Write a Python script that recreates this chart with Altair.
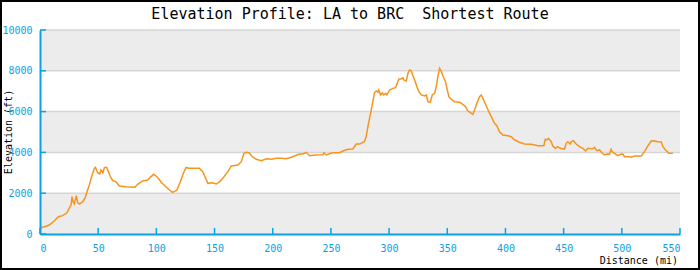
import altair as alt
import pandas as pd

distance_mi = [0.3, 3.8, 8, 12.4, 15.8, 19.5, 23.2, 25.5, 26.7, 27.5, 28.4, 29.5, 31.2, 32.4, 34.1,
               36.7, 38.7, 40.4, 42.4, 44.4, 46.7, 47.6, 49.6, 51.3, 52.4, 54.1, 55.3, 57.3, 58.8,
               60.5, 62.5, 65.3, 68.2, 73.9, 81.6, 83.9, 88.2, 92.5, 95.4, 97.7, 100.5, 104.6,
               108.2, 111.2, 114, 117.7, 120.6, 123.2, 125.4, 128.4, 136.9, 139.8, 142.4, 144.3,
               148.1, 151.5, 154.4, 157.8, 161.5, 164.4, 170.1, 173, 175.3, 177.3, 179.6, 182.5,
               185.9, 190.2, 194.5, 198.8, 203.1, 207.4, 211.7, 216, 220.3, 223.1, 226, 228.9,
               231.7, 236, 243.1, 244, 246, 251.2, 257.5, 260.3, 264.6, 268.9, 271.8, 274.7,
               278.9, 280.4, 281.8, 283.2, 285.2, 287.5, 289, 290.4, 291.2, 292.7, 294.2, 295.3,
               297, 298.1, 300.4, 303.3, 305.6, 306.7, 308.4, 310.5, 311.9, 312.7, 314.8, 316.2,
               317.6, 319.1, 320.5, 322, 323.9, 325.6, 327.7, 330.5, 332, 333.3, 335.4, 337.1,
               339.1, 340.5, 341.9, 343.4, 344.8, 346.2, 348.5, 349.7, 351.4, 353.4, 356.3,
               360.6, 363.4, 365.7, 367.7, 369.8, 372, 373.5, 375.4, 377.7, 379.2, 381.2, 383.5,
               385.7, 387.8, 390.6, 392.6, 394.9, 397.8, 402.1, 405, 407, 409.8, 412.1, 416.4,
               422.2, 427.9, 433, 434.2, 435.6, 437, 439.3, 440.7, 442.8, 445, 447.1, 450.7,
               452.2, 453.6, 455.7, 456.5, 458.4, 460.8, 463.6, 466.5, 468.8, 470.8, 474.6,
               476.5, 478.5, 480.8, 483.2, 485.1, 487.1, 489.4, 490.8, 491.7, 493.7, 496.6,
               498.9, 500.9, 502.3, 506.6, 508, 510.9, 516.7, 519.5, 522.4, 525.3, 527.3, 531,
               533.9, 535.3, 537.6, 540.4, 543.9]

elevation_ft = [310, 360, 440, 650, 850, 900, 1040, 1310, 1420, 1830, 1585, 1470, 1880, 1535, 1470,
                1585, 1750, 2075, 2400, 2810, 3220, 3270, 3005, 2940, 3140, 3005, 3250, 3270, 3055,
                2810, 2615, 2565, 2355, 2320, 2290, 2435, 2600, 2650, 2810, 2925, 2810, 2515,
                2320, 2155, 2040, 2155, 2565, 2975, 3250, 3220, 3220, 3055, 2730, 2485,
                2515, 2450, 2565, 2780, 3055, 3335, 3380, 3545, 3955, 4005, 3985, 3790,
                3660, 3595, 3690, 3660, 3710, 3710, 3690, 3760, 3860, 3920, 3920, 4005,
                3840, 3875, 3885, 3985, 3875, 3985, 3985, 4070, 4150, 4165, 4410, 4410,
                4540, 4800, 5260, 5670, 6240, 6945, 7010, 6945, 7060, 6815, 6925, 6815,
                6895, 6815, 7060, 7140, 7170, 7340, 7600, 7600, 7660, 7550, 7500, 7875,
                8040, 8005, 7760, 7550, 7220, 6975, 6815, 6765, 6815, 6485, 6455, 6815,
                6895, 7220, 7710, 8120, 7990, 7760, 7465, 7140, 6730, 6605, 6485,
                6455, 6360, 6240, 6030, 5945, 5865, 6080, 6405, 6730, 6815, 6570, 6290,
                5995, 5750, 5425, 5310, 5015, 4855, 4820, 4770, 4655, 4560, 4495, 4410,
                4395, 4330, 4330, 4640, 4610, 4690, 4525, 4315, 4200, 4280, 4200, 4165,
                4445, 4525, 4410, 4525, 4575, 4410, 4280, 4200, 4070, 4200, 4165,
                4250, 4085, 4120, 3955, 3875, 3920, 3905, 4150, 4035, 3955, 3840,
                3905, 3920, 3790, 3790, 3760, 3825, 3825, 4035, 4315, 4560, 4575, 4525,
                4510, 4280, 4120, 3955, 3955]

x_ticks = [0, 50, 100, 150, 200, 250, 300, 350, 400, 450, 500, 550]
y_ticks = [0, 2000, 4000, 6000, 8000, 10000]
band_start = [0, 4000, 8000]
band_end = [2000, 6000, 10000]
chart_title = ["Elevation Profile: LA to BRC \u00a0Shortest Route"]
x_title = ["Distance (mi)"]
y_title = ["Elevation (ft)"]

W, H = 640, 204
CYAN = "#0aa2e2"
MONO = "DejaVu Sans Mono"

profile = pd.DataFrame({"dist": distance_mi, "elev": elevation_ft})
bands = pd.DataFrame({"y0": band_start, "y1": band_end})
xt = pd.DataFrame({"t": x_ticks})
yt = pd.DataFrame({"t": y_ticks})

xscale = alt.Scale(domain=[0, 550], nice=False, zero=False)
yscale = alt.Scale(domain=[0, 10000], nice=False)

x_axis = alt.Axis(values=x_ticks, ticks=False, grid=False, domainColor=CYAN, domainWidth=2,
                  labelColor=CYAN, labelFont=MONO, labelFontSize=10, labelPadding=9,
                  format="d", title=None, zindex=1)
y_axis = alt.Axis(values=y_ticks, ticks=False, grid=False, domainColor=CYAN, domainWidth=2,
                  labelColor=CYAN, labelFont=MONO, labelFontSize=10, labelPadding=8,
                  format="d", title=None, zindex=1)

band_layer = alt.Chart(bands).mark_rect(color="#ececec").encode(
    x=alt.value(0), x2=alt.value(W),
    y=alt.Y("y0:Q", scale=yscale, axis=y_axis), y2="y1:Q")

grid_layer = alt.Chart(yt[yt.t > 0]).mark_rule(color="#d6d6d6", strokeWidth=1.5).encode(
    x=alt.value(0), x2=alt.value(W),
    y=alt.Y("t:Q", scale=yscale, axis=y_axis))

line_layer = alt.Chart(profile).mark_line(color="#f7941d", strokeWidth=1.5).encode(
    x=alt.X("dist:Q", scale=xscale, axis=x_axis),
    y=alt.Y("elev:Q", scale=yscale, axis=y_axis))

xtick_layer = alt.Chart(xt).mark_rule(color=CYAN, strokeWidth=1.5).encode(
    x=alt.X("t:Q", scale=xscale, axis=x_axis), y=alt.value(H - 6), y2=alt.value(H))

ytick_layer = alt.Chart(yt).mark_rule(color=CYAN, strokeWidth=1.5).encode(
    y=alt.Y("t:Q", scale=yscale, axis=y_axis), x=alt.value(0), x2=alt.value(6))

title_layer = alt.Chart(pd.DataFrame({"s": chart_title})).mark_text(
    font=MONO, fontSize=15, color="black", align="center", baseline="alphabetic").encode(
    text="s:N", x=alt.value(W / 2 - 10), y=alt.value(-11))

xtitle_layer = alt.Chart(pd.DataFrame({"s": x_title})).mark_text(
    font=MONO, fontSize=10, color="black", align="right", baseline="alphabetic").encode(
    text="s:N", x=alt.value(W - 2), y=alt.value(H + 30))

ytitle_layer = alt.Chart(pd.DataFrame({"s": y_title})).mark_text(
    font=MONO, fontSize=10, color="black", align="center", baseline="middle", angle=270).encode(
    text="s:N", x=alt.value(-31), y=alt.value(H / 2))

frame_layer = alt.Chart(bands.head(1)).mark_rect(
    filled=False, stroke="black", strokeWidth=2, fill=None).encode(
    x=alt.value(-39), x2=alt.value(W + 19), y=alt.value(-29), y2=alt.value(H + 35))

chart = alt.layer(band_layer, grid_layer, line_layer, xtick_layer, ytick_layer,
                  title_layer, xtitle_layer, ytitle_layer, frame_layer).properties(
    width=W, height=H,
    padding={"left": 40, "top": 30, "right": 20, "bottom": 36},
    autosize=alt.AutoSizeParams(type="none"),
    background="white",
).configure_view(stroke=None)

chart.save("out.html", embed_options={"renderer": "svg", "actions": False})
